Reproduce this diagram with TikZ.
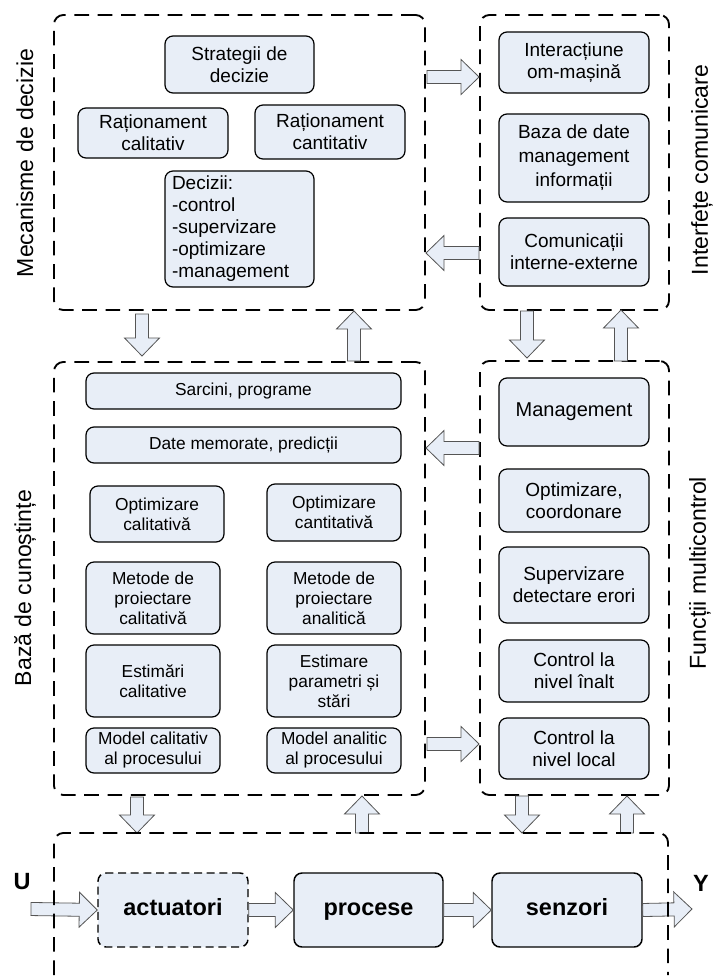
\documentclass[tikz,border=0pt]{standalone}
\usepackage{fontspec}
\setmainfont{Liberation Sans}
\usetikzlibrary{calc}
\definecolor{boxfill}{RGB}{232,238,247}
\definecolor{arrline}{RGB}{85,85,85}
\newcommand\fsz[2]{\fontsize{#1}{#2}\selectfont}
\newcommand\blockarrow[2]{%
  \coordinate (hb) at ($(#2)!13.5pt!(#1)$);
  \draw[barrow] ($(#1)!4.9pt!90:(#2)$) -- ($(hb)!4.9pt!-90:(#1)$) -- ($(hb)!13.1pt!-90:(#1)$) -- (#2) -- ($(hb)!13.1pt!90:(#1)$) -- ($(hb)!4.9pt!90:(#1)$) -- ($(#1)!4.9pt!-90:(#2)$) -- cycle;}
\tikzset{
  container/.style={draw, dash pattern=on 11pt off 6.5pt, line width=1.4pt, rounded corners=7pt},
  box/.style={draw, fill=boxfill, rounded corners=6pt, line width=0.9pt, align=center, inner sep=1pt, font=\fsz{14.25pt}{16.5pt}},
  sbox/.style={box, font=\fsz{13pt}{15pt}},
  bigbox/.style={box, font=\bfseries\fsz{17.6pt}{20pt}, line width=1.1pt, text height=12.6pt, text depth=3.7pt},
  sz/.style 2 args={minimum width=#1*0.75pt, minimum height=#2*0.75pt},
  side/.style={rotate=90, inner sep=0pt, font=\fsz{17.3pt}{20pt}},
  barrow/.style={fill=boxfill, draw=arrline, line width=0.6pt},
  io/.style={font=\bfseries\fsz{17.6pt}{20pt}}
}
\begin{document}
\begin{tikzpicture}[x=0.75pt, y=-0.75pt]
\useasboundingbox (0,0) rectangle (713,979);
% containers
\node[container, sz={371}{295}] (C1) at (239.5,162.5) {};
\node[container, sz={189}{295}] (C2) at (574.5,162.5) {};
\node[container, sz={371}{433}] (C3) at (239.5,578.5) {};
\node[container, sz={189}{434}] (C4) at (574.5,578) {};
% side labels
\node[side] (L1) at (25,163) {Mecanisme de decizie};
\node[side] (L2) at (702,170) {Interfețe comunicare};
\node[side] (L3) at (25,588) {Bază de cunoștințe};
\node[side] (L4) at (700,573) {Funcții multicontrol};
% top-left boxes
\node[box, sz={149}{57}] (strat) at (239.5,64.5) {Strategii de\\decizie};
\node[box, sz={150}{50}] (rcal) at (153,133) {Raționament\\calitativ};
\node[box, sz={150}{54}] (rcant) at (330,132) {Raționament\\cantitativ};
\node[box, align=left, text width=135*0.75pt, inner xsep=7*0.75pt, minimum height=116*0.75pt] (dec) at (239.5,229) {Decizii:\\-control\\-supervizare\\-optimizare\\-management};
% top-right boxes
\node[box, sz={150}{61}] (inter) at (574,62.5) {Interacțiune\\om-mașină};
\node[box, sz={150}{88}, font=\fsz{14.25pt}{18pt}] (baza) at (574,158) {Baza de date\\management\\informații};
\node[box, sz={150}{68}] (comun) at (574,252) {Comunicații\\interne-externe};
% middle-left boxes
\node[sbox, sz={315}{36}] (sarc) at (243.5,391) {Sarcini, programe};
\node[sbox, sz={315}{36}] (date) at (243.5,445) {Date memorate, predicții};
\node[sbox, sz={134}{56}] (optcal) at (157,514) {Optimizare\\calitativă};
\node[sbox, sz={134}{57}] (optcant) at (334,512.5) {Optimizare\\cantitativă};
\node[sbox, sz={134}{72}] (metcal) at (153,598) {Metode de\\proiectare\\calitativă};
\node[sbox, sz={134}{72}] (metan) at (334,598) {Metode de\\proiectare\\analitică};
\node[sbox, sz={134}{72}] (estcal) at (153,681) {Estimări\\calitative};
\node[sbox, sz={134}{72}] (estpar) at (334,681) {Estimare\\parametri și\\stări};
\node[sbox, sz={134}{45}] (modcal) at (153,750.5) {Model calitativ\\al procesului};
\node[sbox, sz={134}{45}] (modan) at (334,750.5) {Model analitic\\al procesului};
% middle-right boxes
\node[box, sz={150}{68}, font=\fsz{15pt}{17pt}] (mgmt) at (574,412) {Management};
\node[box, sz={150}{63}] (optc) at (574,500.5) {Optimizare,\\coordonare};
\node[box, sz={150}{76}] (sup) at (574,585) {Supervizare\\detectare erori};
\node[box, sz={150}{62}] (cinalt) at (574,671) {Control la\\nivel înalt};
\node[box, sz={150}{61}] (cloc) at (574,748.5) {Control la\\nivel local};
% bottom boxes
\node[bigbox, sz={150}{74}, dash pattern=on 6pt off 3.5pt] (act) at (173,910) {actuatori};
\node[bigbox, sz={149}{74}] (proc) at (368.5,910) {procese};
\node[bigbox, sz={150}{74}] (senz) at (567,910) {senzori};
\node[io] (U) at (22,882) {U};
\node[io] (Y) at (701,883) {Y};
% arrow coordinates
\coordinate (a1s) at (427,77);   \coordinate (a1e) at (C2.west |- a1s);
\coordinate (a2s) at (C2.west |- 0,253); \coordinate (a2e) at (426,253);
\coordinate (a3s) at (142,314);  \coordinate (a3e) at (142,356);
\coordinate (a4s) at (354,361);  \coordinate (a4e) at (354,311);
\coordinate (a5s) at (527,311);  \coordinate (a5e) at (527,358);
\coordinate (a6s) at (621,361);  \coordinate (a6e) at (621,310);
\coordinate (a7s) at (C4.west |- 0,448); \coordinate (a7e) at (426,448);
\coordinate (a8s) at (427,744);  \coordinate (a8e) at (C4.west |- a8s);
\coordinate (a9s) at (137,797);  \coordinate (a9e) at (137,833);
\coordinate (a10s) at (362,833); \coordinate (a10e) at (362,796);
\coordinate (a11s) at (522,796); \coordinate (a11e) at (522,833);
\coordinate (a12s) at (627,833); \coordinate (a12e) at (627,796);
\coordinate (uin) at (31,909);
\coordinate (yout) at (692,909);
\blockarrow{a1s}{a1e}
\blockarrow{a2s}{a2e}
\blockarrow{a3s}{a3e}
\blockarrow{a4s}{a4e}
\blockarrow{a5s}{a5e}
\blockarrow{a6s}{a6e}
\blockarrow{a7s}{a7e}
\blockarrow{a8s}{a8e}
\blockarrow{a9s}{a9e}
\blockarrow{a10s}{a10e}
\blockarrow{a11s}{a11e}
\blockarrow{a12s}{a12e}
\blockarrow{uin}{act.west}
\blockarrow{act.east}{proc.west}
\blockarrow{proc.east}{senz.west}
\blockarrow{senz.east}{yout}
% bottom container (open at the bottom)
\coordinate (C5a) at (54,975);
\coordinate (C5b) at (54,833);
\coordinate (C5c) at (668,833);
\coordinate (C5d) at (668,975);
\draw[container] (C5a) -- (C5b) -- (C5c) -- (C5d);
\end{tikzpicture}
\end{document}
